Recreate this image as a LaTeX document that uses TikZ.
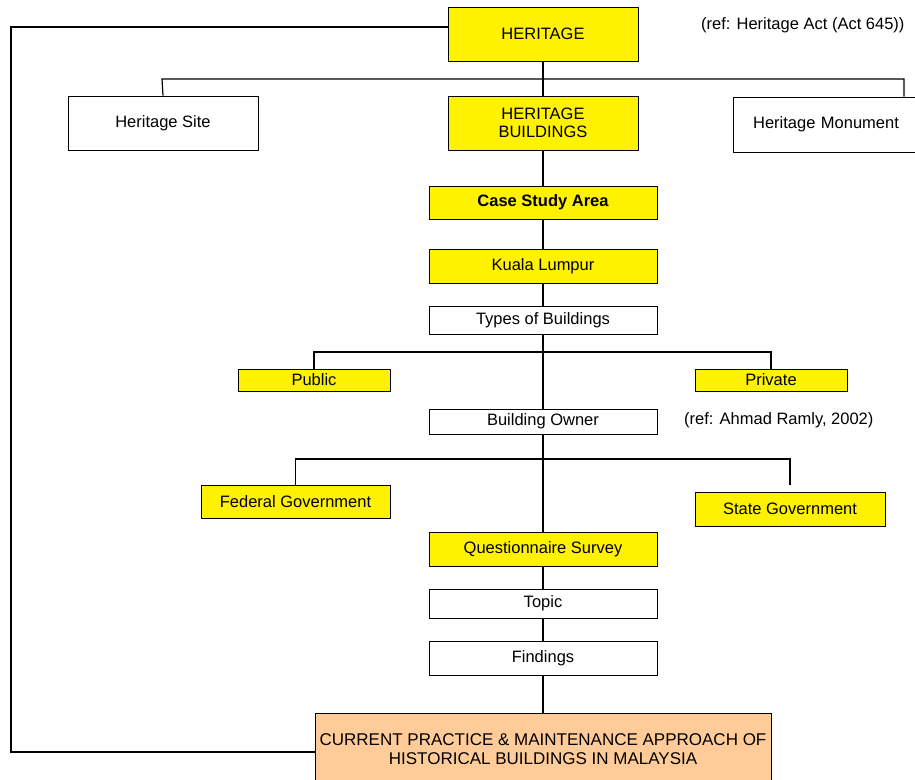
\documentclass[tikz,border=0pt]{standalone}
\usepackage{fontspec}
\setmainfont{Liberation Sans}
\begin{document}
\begin{tikzpicture}[x=1pt,y=-1pt,
  box/.style={draw=black, line width=0.9pt, inner sep=0pt, align=center, font=\fontsize{16.5}{18.5}\selectfont},
  yel/.style={box, fill=yellow},
  wht/.style={box, fill=white},
  peach/.style={box, fill={rgb,255:red,255;green,204;blue,153}, font=\fontsize{17}{18.5}\selectfont},
  conn/.style={line width=1.2pt},
  fb/.style={line width=2.6pt},
  note/.style={font=\fontsize{16.5}{18.5}\selectfont, inner sep=0pt, anchor=west}
]
\useasboundingbox (0,0) rectangle (915,779);
\clip (0,0) rectangle (915,779);
\fill[white] (0,0) rectangle (915,779);

% nodes
\node[yel, minimum width=190, minimum height=54] (her) at (543,34) {HERITAGE};
\node[wht, minimum width=190, minimum height=54] (site) at (163,123) {Heritage Site};
\node[yel, minimum width=190, minimum height=54] (hb) at (543,123) {HERITAGE\\BUILDINGS};
\node[wht, minimum width=186, minimum height=55, text width=186, align=center] (mon) at (826,124.5) {Heritage Monument};
\node[yel, minimum width=228, minimum height=33] (case) at (543,202.5) {\bfseries Case Study Area};
\node[yel, minimum width=228, minimum height=34] (kl) at (543,266) {Kuala Lumpur};
\node[wht, minimum width=228, minimum height=28] (types) at (543,320) {Types of Buildings};
\node[yel, minimum width=152, minimum height=22] (pub) at (314,380) {Public};
\node[yel, minimum width=152, minimum height=22] (priv) at (771,380) {Private};
\node[wht, minimum width=228, minimum height=25] (owner) at (543,421.5) {Building Owner};
\node[yel, minimum width=189, minimum height=33] (fed) at (295.5,501.5) {Federal Government};
\node[yel, minimum width=190, minimum height=34] (state) at (790,509) {State Government};
\node[yel, minimum width=228, minimum height=34] (qs) at (543,549) {Questionnaire Survey};
\node[wht, minimum width=228, minimum height=29] (topic) at (543,603.5) {Topic};
\node[wht, minimum width=228, minimum height=34] (find) at (543,658) {Findings};
\node[peach, minimum width=456, minimum height=72] (cur) at (543,749)
  {CURRENT PRACTICE \& MAINTENANCE APPROACH OF\\HISTORICAL BUILDINGS IN MALAYSIA};

\node[note] (ref1) at (701,25) {(ref: Heritage Act (Act 645))};
\node[note] (ref2) at (684,420) {(ref: Ahmad Ramly, 2002)};

% connectors
\coordinate (busL) at (162,79);
\coordinate (busR) at (904,79);
\draw[conn] (her.south) -- (hb.north);
\draw[conn] (site.north) -- (busL) -- (busR) -- (busR |- mon.north);
\draw[conn] (hb.south) -- (case.north);
\draw[conn] (case.south) -- (kl.north);
\draw[conn] (kl.south) -- (types.north);
\draw[conn] (types.south) -- (owner.north);
\draw[conn] (pub.north) |- (543,352) -| (priv.north);
\draw[conn] (owner.south) -- (qs.north);
\coordinate (stateTop) at (790,485);
\draw[conn] (fed.north) |- (543,459) -| (stateTop);
\draw[conn] (qs.south) -- (topic.north);
\draw[conn] (topic.south) -- (find.north);
\draw[conn] (find.south) -- (cur.north);

% feedback loop
\coordinate (fbTop) at (11,27);
\coordinate (fbBot) at (11,752);
\draw[fb] ([yshift=7pt]her.west) -- (fbTop) -- (fbBot) -- (cur.west |- fbBot);
\end{tikzpicture}
\end{document}
